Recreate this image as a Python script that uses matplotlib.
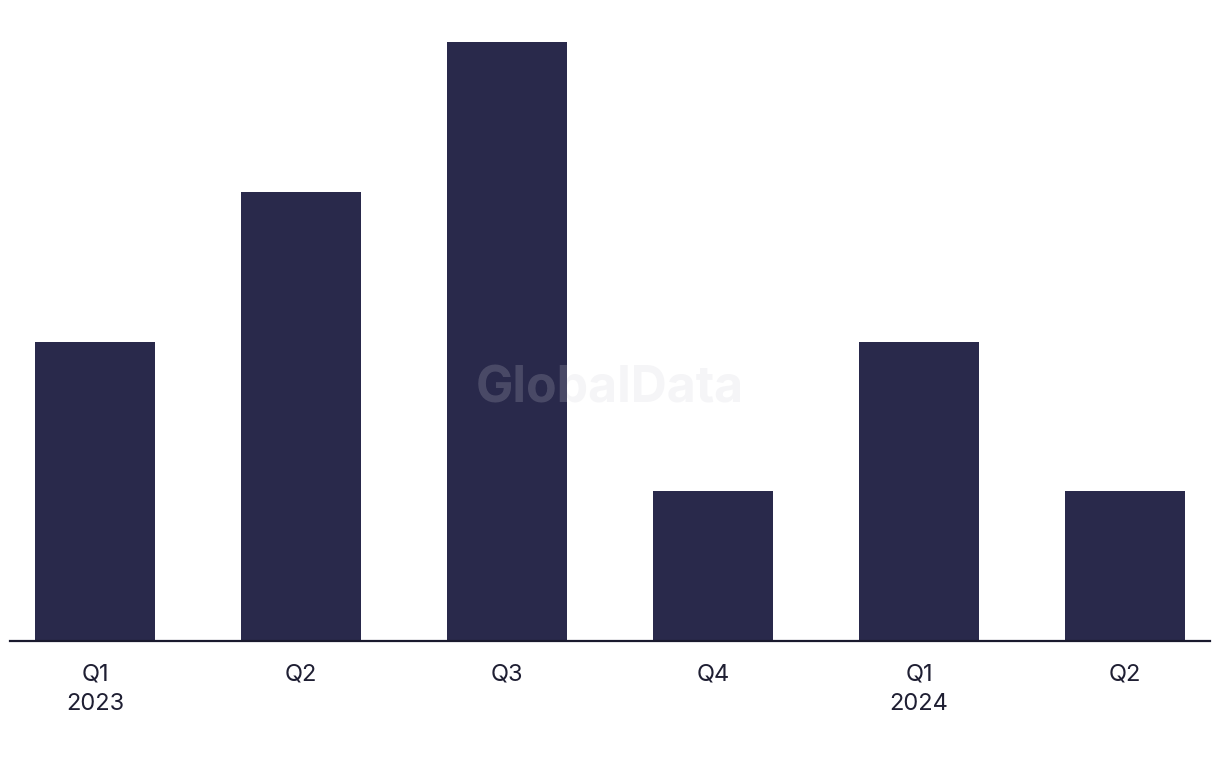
import matplotlib
matplotlib.use("Agg")
import matplotlib.pyplot as plt

quarters = ["Q1", "Q2", "Q3", "Q4", "Q1", "Q2"]
years = ["2023", "", "", "", "2024", ""]
values = [2, 3, 4, 1, 2, 1]

bar_color = "#29294b"
text_color = "#1f1f33"

plt.rcParams['font.family'] = ['Inter', 'DejaVu Sans']

fig = plt.figure(figsize=(12.2, 7.68), dpi=100)
W, H = 1220, 768
left, right = 10 / W, 1210 / W
bottom, top = 1 - 641 / H, 1 - 42 / H
ax = fig.add_axes([left, bottom, right - left, top - bottom])

x = list(range(len(values)))
ax.bar(x, values, width=0.58, color=bar_color, zorder=2)
ax.set_xlim(-0.413, 5.413)
ax.set_ylim(0, 4)

for s in ["top", "right", "left"]:
    ax.spines[s].set_visible(False)
ax.spines["bottom"].set_color("#1a1a2e")
ax.spines["bottom"].set_linewidth(1.6)
ax.set_yticks([])
labels = [q + ("\n" + y if y else "") for q, y in zip(quarters, years)]
ax.set_xticks(x)
ax.set_xticklabels(labels, fontsize=17, color=text_color, linespacing=1.45, va="top")
ax.tick_params(axis="x", length=0, pad=16)

fig.text(610 / W, 1 - 389 / H, "GlobalData", fontsize=36, fontweight="bold",
         color=(206 / 255, 206 / 255, 215 / 255), alpha=0.2, ha="center", va="center",
         zorder=10)

fig.savefig("out.png", dpi=100, facecolor="white")
